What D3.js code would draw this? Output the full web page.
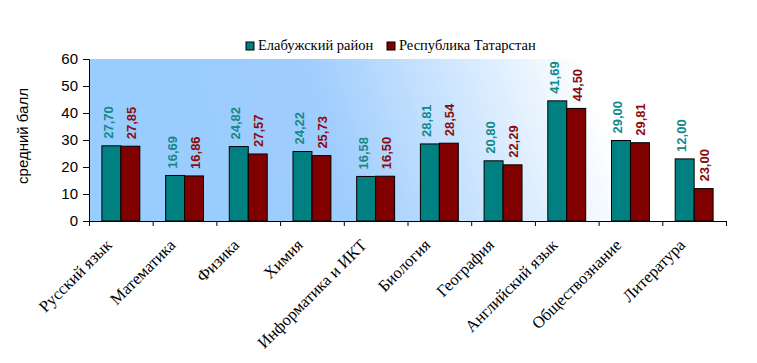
<!DOCTYPE html>
<html>
<head>
<meta charset="utf-8">
<script src="https://cdn.jsdelivr.net/npm/d3@7.9.0/dist/d3.min.js"></script>
<style>
  body { margin: 0; background: #fff; }
</style>
</head>
<body>
<div id="chart"></div>
<script>
// subjects on the x axis
const subjects = ["Русский язык", "Математика", "Физика", "Химия", "Информатика и ИКТ",
  "Биология", "География", "Английский язык", "Обществознание", "Литература"];

// values printed above the bars
const districtLabels = [27.70, 16.69, 24.82, 24.22, 16.58, 28.81, 20.80, 41.69, 29.00, 12.00];
const republicLabels = [27.85, 16.86, 27.57, 25.73, 16.50, 28.54, 22.29, 44.50, 29.81, 23.00];

// bar heights as drawn in the original (the two series are swapped there)
const tealBars = [27.85, 16.86, 27.57, 25.73, 16.50, 28.54, 22.29, 44.50, 29.81, 23.00];
const redBars = [27.70, 16.69, 24.82, 24.22, 16.58, 28.81, 20.80, 41.69, 29.00, 12.00];

const seriesNames = ["Елабужский район", "Республика Татарстан"];
const yTicks = [0, 10, 20, 30, 40, 50, 60];

const width = 757, height = 363;
const margin = { top: 59, right: 31, bottom: 142, left: 89 };
const plotW = width - margin.left - margin.right;
const plotH = height - margin.top - margin.bottom;

const colors = ["#008080", "#800000"];
const labelColors = ["#138a8a", "#8a0b0b"];

const svg = d3.select("#chart").append("svg")
  .attr("width", width)
  .attr("height", height);

// background gradient
const defs = svg.append("defs");
const grad = defs.append("linearGradient")
  .attr("id", "bg")
  .attr("gradientUnits", "userSpaceOnUse")
  .attr("x1", margin.left).attr("y1", margin.top + plotH)
  .attr("x2", 600).attr("y2", margin.top);
grad.append("stop").attr("offset", 0).attr("stop-color", "#99ccff");
grad.append("stop").attr("offset", 0.35).attr("stop-color", "#9fcdfd");
grad.append("stop").attr("offset", 0.85).attr("stop-color", "#ffffff");

const g = svg.append("g").attr("transform", `translate(${margin.left},${margin.top})`);

g.append("rect")
  .attr("width", plotW)
  .attr("height", plotH)
  .attr("fill", "url(#bg)");

const x0 = d3.scaleBand().domain(subjects).range([0, plotW]).padding(0);
const x1 = d3.scaleBand().domain([0, 1]).range([0, x0.bandwidth()]).paddingInner(0).paddingOuter(0.68);
const y = d3.scaleLinear().domain([0, 60]).range([plotH, 0]);

const fmt = v => d3.format(".2f")(v).replace(".", ",");

const rows = subjects.map((s, i) => ({
  subject: s,
  bars: [
    { k: 0, value: tealBars[i], label: districtLabels[i] },
    { k: 1, value: redBars[i], label: republicLabels[i] }
  ]
}));

const groups = g.selectAll(".grp")
  .data(rows)
  .enter().append("g")
  .attr("class", "grp")
  .attr("transform", d => `translate(${x0(d.subject)},0)`);

groups.selectAll("rect")
  .data(d => d.bars)
  .enter().append("rect")
  .attr("x", d => x1(d.k))
  .attr("y", d => y(d.value))
  .attr("width", x1.bandwidth())
  .attr("height", d => plotH - y(d.value))
  .attr("fill", d => colors[d.k])
  .attr("stroke", "#000")
  .attr("stroke-width", 1);

groups.selectAll("text.val")
  .data(d => d.bars)
  .enter().append("text")
  .attr("class", "val")
  .attr("transform", d => {
    const cx = x1(d.k) + x1.bandwidth() / 2 + (d.k === 0 ? -3 : 1);
    return `translate(${cx + 4.5},${y(d.value) - 7}) rotate(-90)`;
  })
  .attr("font-family", "Liberation Sans, Arial, sans-serif")
  .attr("font-size", 13)
  .attr("font-weight", "bold")
  .attr("fill", d => labelColors[d.k])
  .text(d => fmt(d.label));

// y axis
const yAxis = g.append("g")
  .call(d3.axisLeft(y).tickValues(yTicks).tickSize(6).tickPadding(5).tickFormat(d3.format("d")));
yAxis.selectAll("text")
  .attr("font-family", "Liberation Sans, Arial, sans-serif")
  .attr("font-size", 15)
  .attr("fill", "#000");
yAxis.selectAll("line, path").attr("stroke", "#000");

// x axis with ticks between categories
const xEdges = d3.scaleLinear().domain([0, subjects.length]).range([0, plotW]);
const xAxis = g.append("g")
  .attr("transform", `translate(0,${plotH})`)
  .call(d3.axisBottom(xEdges).ticks(subjects.length).tickSize(5).tickSizeOuter(5).tickFormat(""));
xAxis.selectAll("line, path").attr("stroke", "#000");

g.selectAll(".xlab")
  .data(subjects)
  .enter().append("text")
  .attr("class", "xlab")
  .attr("transform", d => `translate(${x0(d) + x0.bandwidth() / 2 - 8},${plotH + 25}) rotate(-45)`)
  .attr("text-anchor", "end")
  .attr("font-family", "Liberation Serif, Times New Roman, serif")
  .attr("font-size", 16.5)
  .attr("fill", "#000")
  .text(d => d);

// y axis title
svg.append("text")
  .attr("transform", `translate(28,${margin.top + plotH / 2 - 4}) rotate(-90)`)
  .attr("text-anchor", "middle")
  .attr("font-family", "Liberation Sans, Arial, sans-serif")
  .attr("font-size", 15)
  .text("средний балл");

// legend
const legendX = [246, 387];
const legend = svg.selectAll(".leg")
  .data(seriesNames)
  .enter().append("g")
  .attr("class", "leg")
  .attr("transform", (d, i) => `translate(${legendX[i]},42)`);
legend.append("rect")
  .attr("width", 8).attr("height", 8)
  .attr("fill", (d, i) => colors[i])
  .attr("stroke", "#000");
legend.append("text")
  .attr("x", 12).attr("y", 8)
  .attr("font-family", "Liberation Serif, Times New Roman, serif")
  .attr("font-size", 14.5)
  .text(d => d);
</script>
</body>
</html>
